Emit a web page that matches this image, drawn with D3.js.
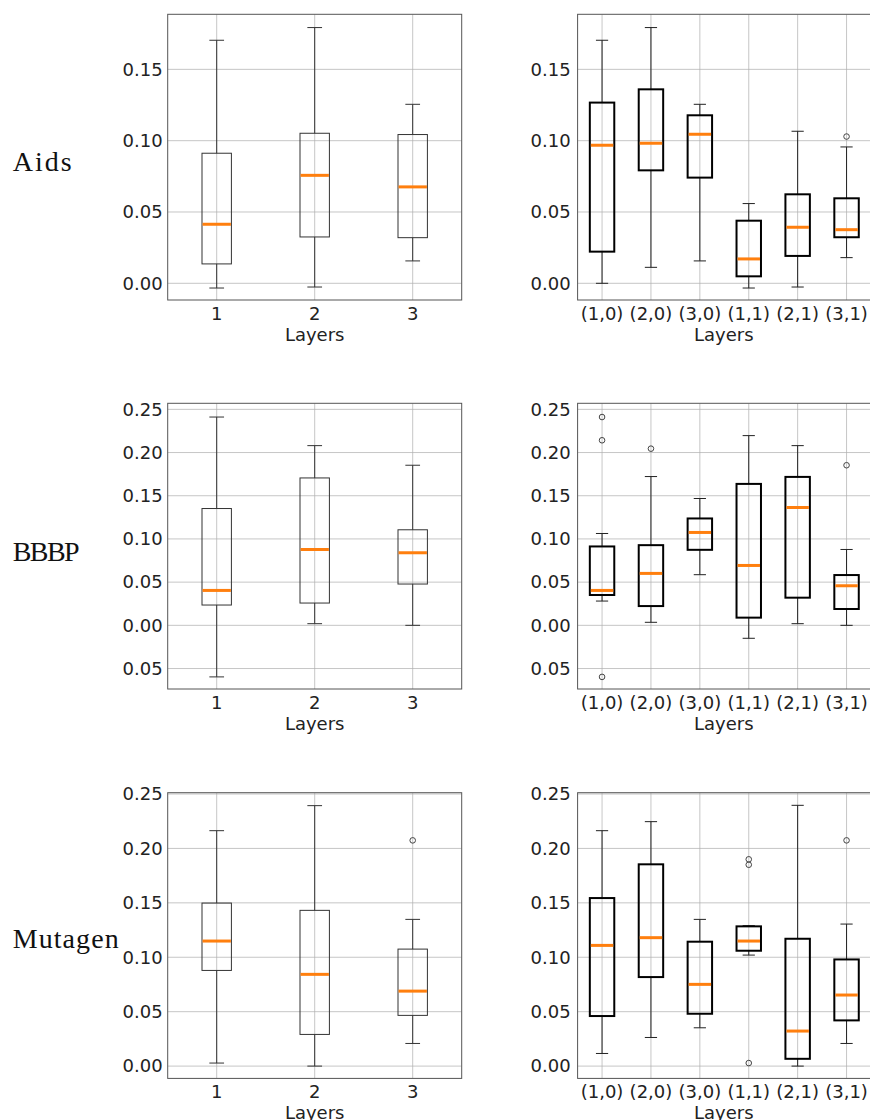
<!DOCTYPE html>
<html><head><meta charset="utf-8">
<script src="https://cdn.jsdelivr.net/npm/d3@7"></script>
<style>body{margin:0;background:#fff}svg{display:block}</style>
</head><body>
<svg id="c" width="870" height="1120"></svg>
<script>
// ---------- data ----------
const rowNames = ["Aids", "BBBP", "Mutagen"];
const layerCats = ["1", "2", "3"];
const pairCats = ["(1,0)", "(2,0)", "(3,0)", "(1,1)", "(2,1)", "(3,1)"];

// five-number summaries per box: [whiskerLow, Q1, median, Q3, whiskerHigh]
const aidsLayers = [
  [-0.0033, 0.0136, 0.0414, 0.0912, 0.1704],
  [-0.0026, 0.0325, 0.0757, 0.1052, 0.1793],
  [0.0157, 0.0320, 0.0676, 0.1043, 0.1255]
];
const aidsLayersOut = [[], [], []];
const aidsPairs = [
  [0.0000, 0.0222, 0.0968, 0.1267, 0.1704],
  [0.0112, 0.0792, 0.0982, 0.1360, 0.1793],
  [0.0157, 0.0741, 0.1045, 0.1178, 0.1255],
  [-0.0033, 0.0049, 0.0171, 0.0439, 0.0559],
  [-0.0026, 0.0192, 0.0393, 0.0624, 0.1066],
  [0.0180, 0.0323, 0.0376, 0.0596, 0.0956]
];
const aidsPairsOut = [[], [], [], [], [], [0.1029]];

const bbbpLayers = [
  [-0.0597, 0.0235, 0.0404, 0.1352, 0.2411],
  [0.0019, 0.0258, 0.0878, 0.1706, 0.2080],
  [0.0000, 0.0478, 0.0840, 0.1106, 0.1853]
];
const bbbpLayersOut = [[], [], []];
const bbbpPairs = [
  [0.0281, 0.0351, 0.0404, 0.0913, 0.1063],
  [0.0035, 0.0223, 0.0601, 0.0928, 0.1722],
  [0.0586, 0.0874, 0.1075, 0.1237, 0.1468],
  [-0.0150, 0.0089, 0.0693, 0.1637, 0.2196],
  [0.0019, 0.0320, 0.1364, 0.1718, 0.2080],
  [0.0000, 0.0189, 0.0458, 0.0582, 0.0878]
];
const bbbpPairsOut = [[0.2411, 0.2142, -0.0597], [0.2045], [], [], [], [0.1853]];

const mutaLayers = [
  [0.0028, 0.0879, 0.1149, 0.1498, 0.2163],
  [0.0000, 0.0291, 0.0843, 0.1431, 0.2393],
  [0.0208, 0.0466, 0.0689, 0.1075, 0.1348]
];
const mutaLayersOut = [[], [], [0.2074]];
const mutaPairs = [
  [0.0116, 0.0460, 0.1109, 0.1544, 0.2163],
  [0.0263, 0.0818, 0.1180, 0.1854, 0.2246],
  [0.0352, 0.0481, 0.0751, 0.1143, 0.1348],
  [0.1020, 0.1060, 0.1149, 0.1284, 0.1290],
  [0.0000, 0.0067, 0.0322, 0.1170, 0.2396],
  [0.0208, 0.0420, 0.0653, 0.0980, 0.1305]
];
const mutaPairsOut = [[], [], [], [0.1900, 0.1850, 0.0028], [], [0.2074]];

// y ticks per row and their labels (minus glyph is missing in the original)
const row1Ticks = [0, 0.05, 0.10, 0.15];
const row1TickLabels = ["0.00", "0.05", "0.10", "0.15"];
const row2Ticks = [-0.05, 0, 0.05, 0.10, 0.15, 0.20, 0.25];
const row2TickLabels = ["0.05", "0.00", "0.05", "0.10", "0.15", "0.20", "0.25"];
const row3Ticks = [0, 0.05, 0.10, 0.15, 0.20, 0.25];
const row3TickLabels = ["0.00", "0.05", "0.10", "0.15", "0.20", "0.25"];
const row1Domain = [-0.0117, 0.1886];
const row2Domain = [-0.0737, 0.2570];
const row3Domain = [-0.0113, 0.2512];
const xTitle = "Layers";

// ---------- layout ----------
const svg = d3.select("#c");
const rowTop = [14.3, 403.3, 792.7];
const rowH = 285.7;
const leftX = [167.7, 461.7];
const rightX = [577.6, 871];
const labelPos = [[12.7, 170.7, 59], [12.7, 560.7, 67], [12.7, 948.3, 106]];

const rows = [
  {domain: row1Domain, ticks: row1Ticks, labels: row1TickLabels,
   left: [aidsLayers, aidsLayersOut], right: [aidsPairs, aidsPairsOut]},
  {domain: row2Domain, ticks: row2Ticks, labels: row2TickLabels,
   left: [bbbpLayers, bbbpLayersOut], right: [bbbpPairs, bbbpPairsOut]},
  {domain: row3Domain, ticks: row3Ticks, labels: row3TickLabels,
   left: [mutaLayers, mutaLayersOut], right: [mutaPairs, mutaPairsOut]}
];

const font = "DejaVu Sans, sans-serif";

function panel(rowIdx, xr, cats, stats, outs, bold) {
  const r = rows[rowIdx];
  const top = rowTop[rowIdx], bot = top + rowH;
  const y = d3.scaleLinear().domain(r.domain).range([bot, top]);
  const n = cats.length;
  const x = d3.scaleLinear().domain([0.5, n + 0.5]).range(xr);
  const unit = x(2) - x(1);
  const bw = (n === 3 ? 0.3 : 0.5) * unit;
  const g = svg.append("g");
  const clipId = "clip" + rowIdx + (bold ? "r" : "l");
  svg.append("clipPath").attr("id", clipId).append("rect")
    .attr("x", xr[0]).attr("y", top).attr("width", xr[1] - xr[0]).attr("height", rowH);
  const grid = g.append("g").attr("clip-path", `url(#${clipId})`);
  // y grid
  grid.selectAll("line.gy").data(r.ticks).join("line")
    .attr("x1", xr[0]).attr("x2", xr[1])
    .attr("y1", d => y(d)).attr("y2", d => y(d))
    .attr("stroke", "#b0b0b0").attr("stroke-width", 0.9).attr("stroke-opacity", 0.8);
  // x grid
  grid.selectAll("line.gx").data(cats).join("line")
    .attr("x1", (d, i) => x(i + 1)).attr("x2", (d, i) => x(i + 1))
    .attr("y1", top).attr("y2", bot)
    .attr("stroke", "#b0b0b0").attr("stroke-width", 0.9).attr("stroke-opacity", 0.8);

  const boxes = g.append("g");
  stats.forEach((s, i) => {
    const cx = x(i + 1);
    const [lo, q1, med, q3, hi] = s;
    const wc = bold ? "#222" : "#333";
    // whiskers
    boxes.append("line").attr("x1", cx).attr("x2", cx).attr("y1", y(q3)).attr("y2", y(hi))
      .attr("stroke", wc).attr("stroke-width", 1);
    boxes.append("line").attr("x1", cx).attr("x2", cx).attr("y1", y(q1)).attr("y2", y(lo))
      .attr("stroke", wc).attr("stroke-width", 1);
    // caps
    [lo, hi].forEach(v => {
      boxes.append("line").attr("x1", cx - bw / 4).attr("x2", cx + bw / 4)
        .attr("y1", y(v)).attr("y2", y(v)).attr("stroke", wc).attr("stroke-width", 1);
    });
    // box
    boxes.append("rect").attr("x", cx - bw / 2).attr("width", bw)
      .attr("y", y(q3)).attr("height", y(q1) - y(q3))
      .attr("fill", "none").attr("stroke", bold ? "#000" : "#333")
      .attr("stroke-width", bold ? 2 : 1);
    // median
    boxes.append("line").attr("x1", cx - bw / 2 + (bold ? 1 : 0.5)).attr("x2", cx + bw / 2 - (bold ? 1 : 0.5))
      .attr("y1", y(med)).attr("y2", y(med))
      .attr("stroke", "#ff7f0e").attr("stroke-width", 3);
    // outliers
    boxes.selectAll(null).data(outs[i]).join("circle")
      .attr("cx", cx).attr("cy", d => y(d)).attr("r", 2.8)
      .attr("fill", "none").attr("stroke", "#444").attr("stroke-width", 1);
  });

  // frame
  g.append("rect").attr("x", xr[0]).attr("y", top).attr("width", xr[1] - xr[0]).attr("height", rowH)
    .attr("fill", "none").attr("stroke", "#555").attr("stroke-width", 1);

  // y tick labels
  g.selectAll("text.yt").data(r.ticks).join("text")
    .attr("x", xr[0] - (bold ? 7 : 5)).attr("y", d => y(d)).attr("dy", "0.35em")
    .attr("text-anchor", "end").attr("font-family", font).attr("font-size", 18)
    .attr("fill", "#222").text((d, i) => r.labels[i]);
  // x tick labels
  g.selectAll("text.xt").data(cats).join("text")
    .attr("x", (d, i) => x(i + 1)).attr("y", bot + 20)
    .attr("text-anchor", "middle").attr("font-family", font).attr("font-size", 18)
    .attr("fill", "#222").text(d => d);
  // x title
  g.append("text").attr("x", (xr[0] + Math.min(xr[1], 870.5)) / 2 + (bold ? -0.3 : 0)).attr("y", bot + 40.7)
    .attr("text-anchor", "middle").attr("font-family", font).attr("font-size", 18)
    .attr("fill", "#222").text(xTitle);
}

rows.forEach((r, i) => {
  panel(i, leftX, layerCats, r.left[0], r.left[1], false);
  panel(i, rightX, pairCats, r.right[0], r.right[1], true);
});

// row labels
rowNames.forEach((name, i) => {
  svg.append("text").attr("x", labelPos[i][0]).attr("y", labelPos[i][1])
    .attr("font-family", "Liberation Serif, DejaVu Serif, serif").attr("font-size", 28)
    .attr("textLength", labelPos[i][2]).attr("lengthAdjust", "spacing")
    .attr("fill", "#111").text(name);
});
</script>
</body></html>
